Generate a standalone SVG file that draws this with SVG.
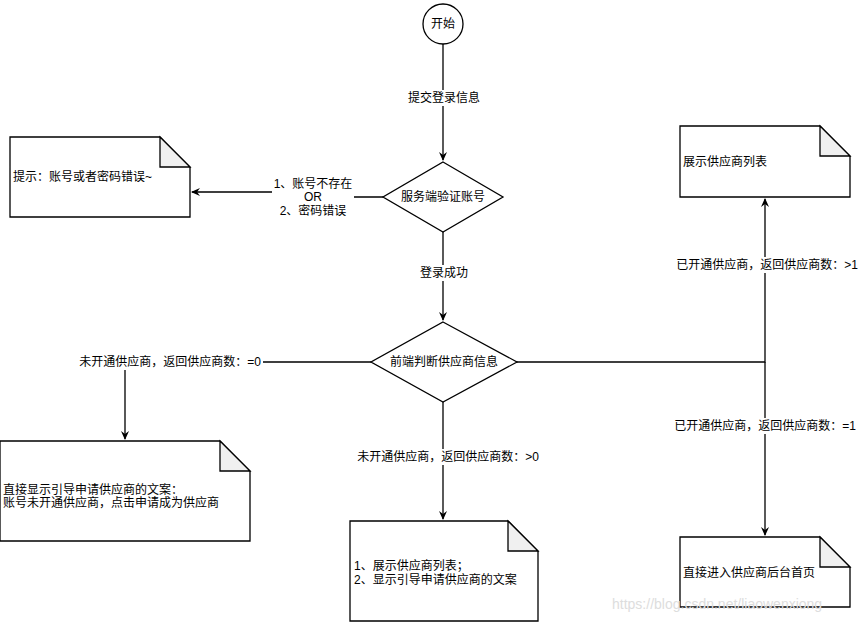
<svg xmlns="http://www.w3.org/2000/svg" width="859" height="622" viewBox="0 0 859 622">
<style>
text{font-family:"Liberation Sans","Noto Sans CJK SC",sans-serif;font-size:12px;fill:#000}
.c{text-anchor:middle}
.s{fill:#fff;stroke:#000;stroke-width:1.3}
.f{fill:#f0f0f0;stroke:#000;stroke-width:1.3}
.e{fill:none;stroke:#000;stroke-width:1.3}
.lb{fill:#fff}
</style>
<defs><marker id="a" markerWidth="10" markerHeight="10" refX="8" refY="5" orient="auto" markerUnits="userSpaceOnUse"><path d="M0,1 L9,5 L0,9 L3,5 Z" fill="#000"/></marker></defs>
<rect width="859" height="622" fill="#fff"/>
<g id="connectors">
<path class="e" d="M443,44 V160" marker-end="url(#a)"/>
<path class="e" d="M383,197 H300 V192 H192" marker-end="url(#a)"/>
<path class="e" d="M443,232 V320" marker-end="url(#a)"/>
<path class="e" d="M371,362 H125 V439" marker-end="url(#a)"/>
<path class="e" d="M443,402 V519" marker-end="url(#a)"/>
<path class="e" d="M515,362 H765 V199" marker-end="url(#a)"/>
<path class="e" d="M765,362 V535" marker-end="url(#a)"/>
<rect class="lb" x="406" y="90" width="76" height="16"/>
<text class="c" x="444" y="102">提交登录信息</text>
<rect class="lb" x="272" y="174" width="82" height="46"/>
<text class="c" x="313" y="188">1、账号不存在</text>
<text class="c" x="313" y="201" fill="#444">OR</text>
<text class="c" x="313" y="215">2、密码错误</text>
<rect class="lb" x="419" y="265" width="50" height="16"/>
<text class="c" x="444" y="277">登录成功</text>
<rect class="lb" x="77" y="354" width="186" height="16"/>
<text class="c" x="170" y="366">未开通供应商，返回供应商数：=0</text>
<rect class="lb" x="355" y="449" width="186" height="16"/>
<text class="c" x="448" y="461">未开通供应商，返回供应商数：&gt;0</text>
<rect class="lb" x="676" y="257" width="182" height="16"/>
<text class="c" x="767" y="269">已开通供应商，返回供应商数：&gt;1</text>
<rect class="lb" x="672" y="418" width="186" height="16"/>
<text class="c" x="765" y="430">已开通供应商，返回供应商数：=1</text>
</g>
<g id="start"><circle class="s" cx="443" cy="24" r="20" stroke-width="2.5"/><text class="c" x="443" y="28">开始</text></g>
<g id="verify"><path class="s" d="M443,162 L503,197 L443,232 L383,197 Z"/><text class="c" x="443" y="201">服务端验证账号</text></g>
<g id="judge"><path class="s" d="M443,322 L517,362 L443,402 L371,362 Z"/><text class="c" x="444" y="366">前端判断供应商信息</text></g>
<g id="note1"><path class="s" d="M10,137 H160 L190,167 V217 H10 Z"/><path class="f" d="M160,137 V167 H190 Z"/><text x="13" y="181">提示：账号或者密码错误~</text></g>
<g id="note2"><path class="s" d="M0,441 H220 L250,471 V541 H0 Z"/><path class="f" d="M220,441 V471 H250 Z"/><text x="3" y="494">直接显示引导申请供应商的文案：</text><text x="3" y="507">账号未开通供应商，点击申请成为供应商</text></g>
<g id="note3"><path class="s" d="M350,521 H508 L538,551 V621 H350 Z"/><path class="f" d="M508,521 V551 H538 Z"/><text x="354" y="570">1、展示供应商列表；</text><text x="354" y="584">2、显示引导申请供应商的文案</text></g>
<g id="note4"><path class="s" d="M680,126 H820 L850,156 V197 H680 Z"/><path class="f" d="M820,126 V156 H850 Z"/><text x="683" y="166">展示供应商列表</text></g>
<g id="note5"><path class="s" d="M680,537 H820 L850,567 V607 H680 Z"/><path class="f" d="M820,537 V567 H850 Z"/><text x="683" y="577">直接进入供应商后台首页</text></g>
<text x="612" y="609" style="font-size:14px;fill:#dddddd">https://blog.csdn.net/liaowenxiong</text>
</svg>
